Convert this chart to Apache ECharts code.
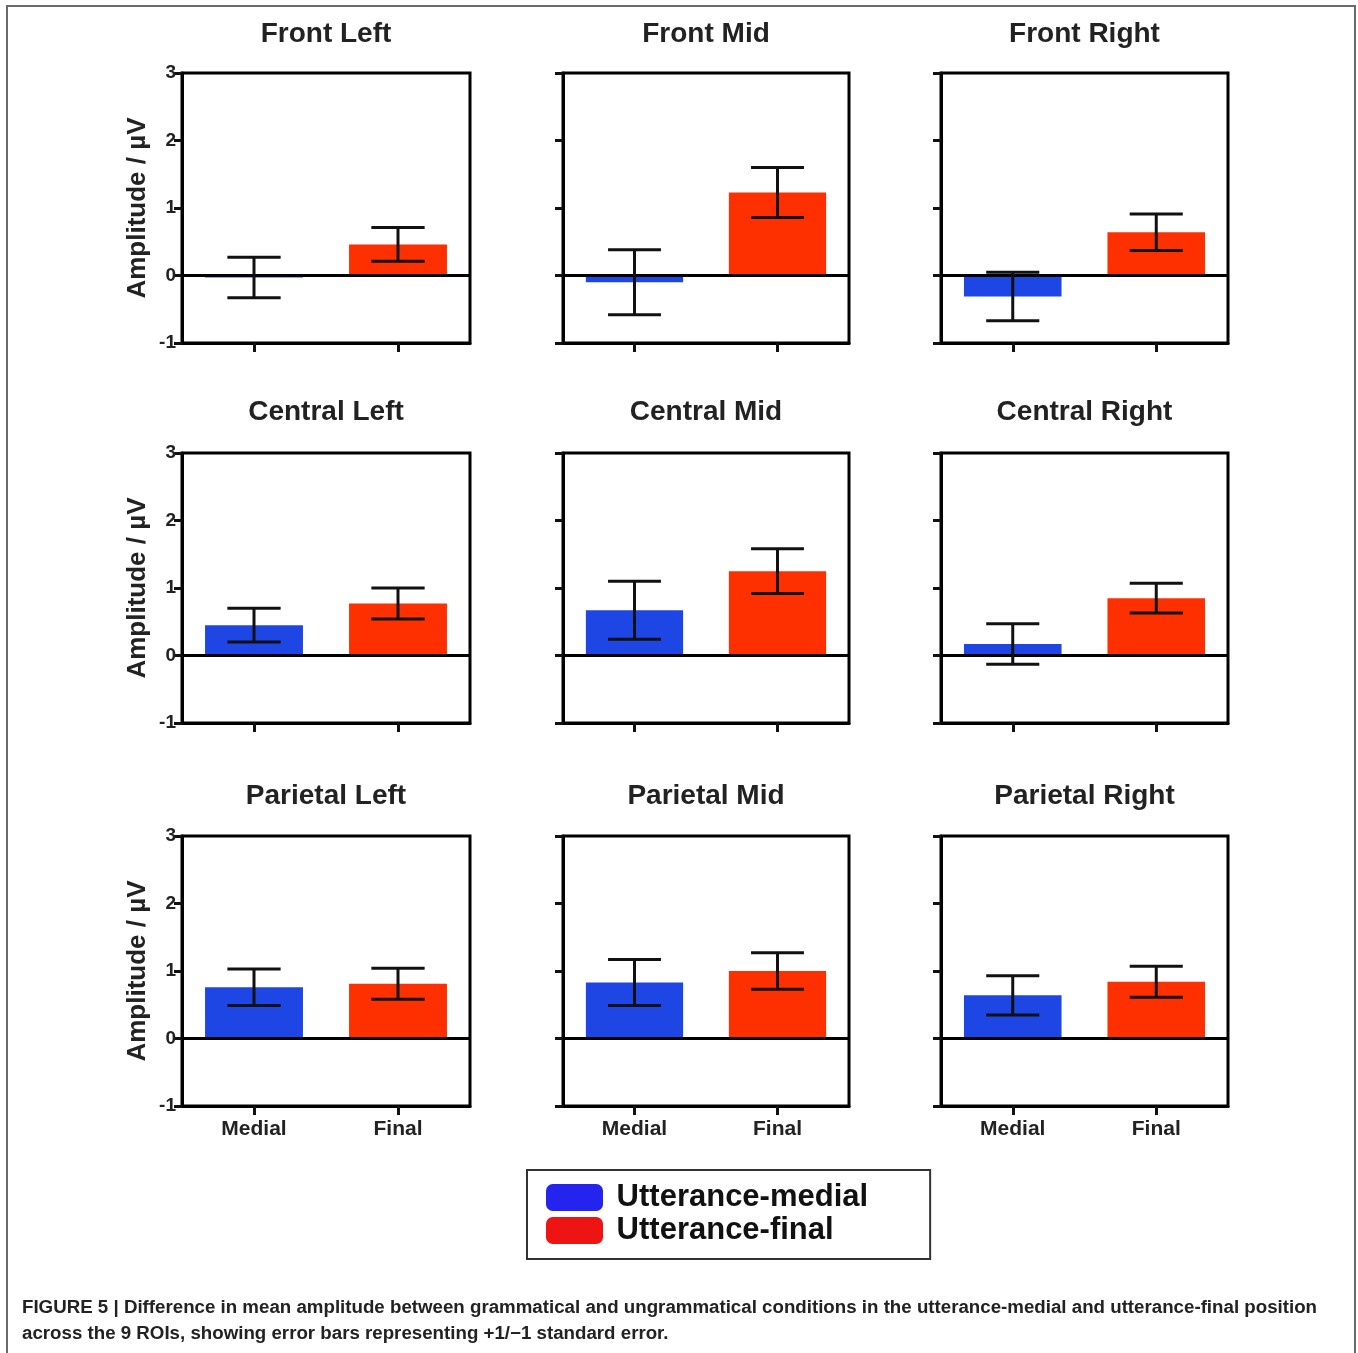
<!DOCTYPE html>
<html><head><meta charset="utf-8">
<script src="https://cdn.jsdelivr.net/npm/echarts@6/dist/echarts.min.js"></script>
<style>html,body{margin:0;padding:0;background:#fff}#c{width:1358px;height:1353px}</style>
</head><body><div id="c"></div>
<script>
const regions = ['Front Left','Front Mid','Front Right','Central Left','Central Mid','Central Right','Parietal Left','Parietal Mid','Parietal Right'];
const categories = ['Medial','Final'];
const seriesNames = ['Utterance-medial','Utterance-final'];
const medialMean = [-0.03,-0.10,-0.31, 0.45,0.67,0.17, 0.76,0.83,0.64];
const medialSE   = [ 0.30, 0.48, 0.36, 0.25,0.43,0.30, 0.27,0.34,0.29];
const finalMean  = [ 0.46, 1.23, 0.64, 0.77,1.25,0.85, 0.81,1.00,0.84];
const finalSE    = [ 0.25, 0.37, 0.27, 0.23,0.33,0.22, 0.23,0.27,0.23];
const yMin = -1, yMax = 3, yStep = 1;
const yAxisTitle = 'Amplitude / µV';
const captionLines = [
  'FIGURE 5 | Difference in mean amplitude between grammatical and ungrammatical conditions in the utterance-medial and utterance-final position',
  'across the 9 ROIs, showing error bars representing +1/\u22121 standard error.'
];

const FONT = '"Liberation Sans", Arial, Helvetica, sans-serif';
const BLUE = '#1e46e4', RED = '#ff3000';
const colLeft = [182, 563, 941], colW = [288, 286, 287];
const rowTop = [73, 453, 836], rowH = [270, 270, 270];
const titleY = [34, 412, 796];

const grids = [], xAxes = [], yAxes = [], series = [], graphics = [];
graphics.push({type:'rect', shape:{x:7, y:6, width:1348, height:1420}, style:{fill:'none', stroke:'#6a6a6a', lineWidth:2}, z:-1, silent:true});

regions.forEach((name, i) => {
  const r = Math.floor(i / 3), c = i % 3;
  grids.push({left: colLeft[c], top: rowTop[r], width: colW[c], height: rowH[r], show: true,
    borderColor: '#000', borderWidth: 3, backgroundColor: 'transparent', containLabel: false});
  xAxes.push({type: 'category', gridIndex: i, data: categories,
    axisLine: {show: true, onZero: false, lineStyle: {color: '#000', width: 3}},
    axisTick: {show: true, alignWithLabel: true, length: 9, lineStyle: {color: '#111', width: 3}},
    axisLabel: {show: r === 2, color: '#222', fontWeight: 'bold', fontSize: 21, margin: 13, fontFamily: FONT},
    splitLine: {show: false}});
  yAxes.push({type: 'value', gridIndex: i, min: yMin, max: yMax, interval: yStep,
    axisLine: {show: true, lineStyle: {color: '#000', width: 3}},
    axisTick: {show: true, length: 8, lineStyle: {color: '#111', width: 3}},
    axisLabel: {show: c === 0, color: '#222', fontWeight: 'bold', fontSize: 19, margin: 6, fontFamily: FONT},
    splitLine: {show: false},
    name: c === 0 ? yAxisTitle : '', nameLocation: 'middle', nameGap: 31,
    nameTextStyle: {fontWeight: 'bold', fontSize: 26, color: '#222', fontFamily: FONT}});
  series.push({type: 'bar', name: seriesNames[0], xAxisIndex: i, yAxisIndex: i,
    data: [medialMean[i], '-'], barWidth: '68%', barGap: '-100%', itemStyle: {color: BLUE}, z: 2, silent: true});
  series.push({type: 'bar', name: seriesNames[1], xAxisIndex: i, yAxisIndex: i,
    data: ['-', finalMean[i]], barWidth: '68%', barGap: '-100%', itemStyle: {color: RED}, z: 2, silent: true});
  series.push({type: 'custom', xAxisIndex: i, yAxisIndex: i, z: 6, silent: true,
    data: [[0, medialMean[i], medialSE[i]], [1, finalMean[i], finalSE[i]]],
    encode: {x: 0, y: 1},
    renderItem: (params, api) => {
      const x = api.value(0), v = api.value(1), e = api.value(2);
      const hi = api.coord([x, v + e]), lo = api.coord([x, v - e]);
      const w = api.size([1, 0])[0] * 0.37;
      const style = {stroke: '#111', lineWidth: 3};
      return {type: 'group', children: [
        {type: 'line', shape: {x1: hi[0], y1: hi[1], x2: lo[0], y2: lo[1]}, style},
        {type: 'line', shape: {x1: hi[0] - w / 2, y1: hi[1], x2: hi[0] + w / 2, y2: hi[1]}, style},
        {type: 'line', shape: {x1: lo[0] - w / 2, y1: lo[1], x2: lo[0] + w / 2, y2: lo[1]}, style}
      ]};
    },
    markLine: {silent: true, symbol: 'none', label: {show: false}, animation: false,
      lineStyle: {color: '#000', width: 3, type: 'solid'}, data: [{yAxis: 0}]}});
  graphics.push({type: 'text', x: colLeft[c] + colW[c] / 2, y: titleY[r], silent: true,
    style: {text: name, fontSize: 28, fontWeight: 'bold', fontFamily: FONT, fill: '#222', align: 'center', verticalAlign: 'middle'}});
});

// caption: condensed by horizontal scaling to the reference line width
const capFont = 'bold 18px "Liberation Sans", Arial, sans-serif';
const ctx = document.createElement('canvas').getContext('2d');
ctx.font = capFont;
const capScale = 1295 / ctx.measureText(captionLines[0]).width;
captionLines.forEach((t, k) => {
  graphics.push({type: 'text', x: 22, y: 1308 + k * 26, scaleX: capScale, silent: true,
    style: {text: t, font: capFont, fill: '#222', align: 'left', verticalAlign: 'middle'}});
});

const chart = echarts.init(document.getElementById('c'), null, {renderer: 'canvas'});
chart.setOption({
  animation: false,
  backgroundColor: '#fff',
  grid: grids, xAxis: xAxes, yAxis: yAxes, series: series,
  legend: {orient: 'vertical', left: 527, top: 1170, padding: [12, 62, 13, 19], itemGap: 2,
    itemWidth: 57, itemHeight: 27, borderColor: '#333', borderWidth: 2, icon: 'roundRect', selectedMode: false,
    formatter: n => ' ' + n,
    textStyle: {fontSize: 31, fontWeight: 'bold', color: '#111', fontFamily: FONT},
    data: [{name: seriesNames[0], itemStyle: {color: '#2424ee'}}, {name: seriesNames[1], itemStyle: {color: '#ee1414'}}]},
  graphic: graphics
});
</script></body></html>
